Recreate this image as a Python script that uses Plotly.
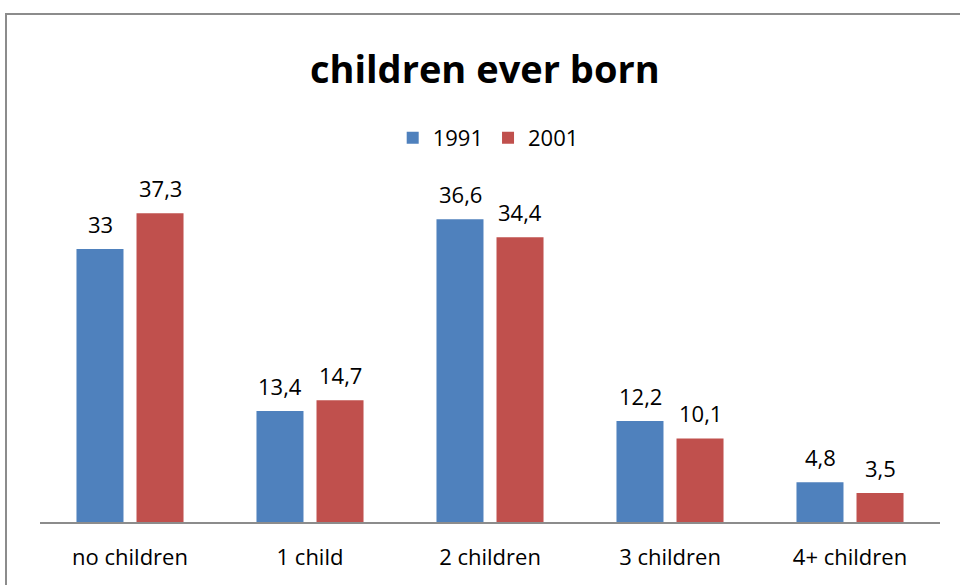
import plotly.graph_objects as go

categories = ["no children", "1 child", "2 children", "3 children", "4+ children"]
years = ["1991", "2001"]
values_1991 = [33, 13.4, 36.6, 12.2, 4.8]
values_2001 = [37.3, 14.7, 34.4, 10.1, 3.5]
colors = ["#4F81BD", "#C0504D"]

FONT = "Open Sans"

def fmt(v):
    s = ("%g" % v)
    return s.replace(".", ",")

fig = go.Figure()
for name, vals, col in zip(years, [values_1991, values_2001], colors):
    fig.add_trace(go.Bar(x=categories, y=vals, name=name, marker=dict(color=col, line=dict(width=0))))

annotations = []
for vals, shift in zip([values_1991, values_2001], [-30, 30]):
    for c, v in zip(categories, vals):
        annotations.append(dict(x=c, y=v, xref="x", yref="y", text=fmt(v), showarrow=False,
                                xshift=shift, yshift=8, yanchor="bottom",
                                font=dict(family=FONT, size=22, color="#000")))

fig.update_layout(
    width=960, height=585,
    margin=dict(l=40, r=20, t=191, b=63),
    paper_bgcolor="white", plot_bgcolor="white",
    barmode="group", bargap=0.333, bargroupgap=0.217,
    title=dict(text="<b>children ever born</b>", x=0.505, xanchor="center",
               y=1 - 70 / 585, yanchor="middle", yref="container",
               font=dict(family=FONT, size=38, color="#000")),
    legend=dict(orientation="h", x=0.498, xanchor="center", y=(522 - 138) / 331, yanchor="middle",
                font=dict(family=FONT, size=22, color="#000"), itemwidth=30, traceorder="normal"),
    xaxis=dict(showline=True, linecolor="#8c8c8c", linewidth=2, ticks="", showgrid=False,
               tickfont=dict(family=FONT, size=22, color="#000"), ticklabelstandoff=15),
    yaxis=dict(range=[0, 40], visible=False, showgrid=False),
    annotations=annotations,
    shapes=[dict(type="rect", xref="paper", yref="paper", x0=-34 / 900, x1=2, y0=-1, y1=508 / 331,
                 line=dict(color="#8c8c8c", width=2), layer="below")],
    showlegend=True,
)

fig.write_html("out.html")
